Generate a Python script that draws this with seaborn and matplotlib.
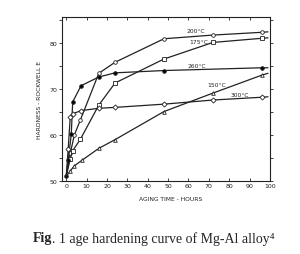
import matplotlib
matplotlib.use("Agg")
import matplotlib.pyplot as plt
import pandas as pd
import seaborn as sns

# aging time (hours) and Rockwell E hardness
hours_200 = [0, 2, 4, 7, 16, 24, 48, 72, 96, 99]
hard_200 = [51, 56, 60, 63.3, 73.4, 75.8, 80.9, 81.7, 82.3, 82.4]

hours_175 = [0, 2, 3.2, 7, 16, 24, 48, 72, 96, 99]
hard_175 = [51, 54.8, 56.6, 59.1, 66.5, 71.3, 76.5, 80.1, 81.0, 81.1]

hours_260 = [0, 1, 2.5, 3.2, 7.3, 16, 24, 48, 96, 99]
hard_260 = [51, 54.5, 60.2, 67.2, 70.7, 72.6, 73.5, 74.0, 74.6, 74.6]

hours_150 = [0, 2, 4, 8, 16, 24, 48, 72, 96, 99]
hard_150 = [51, 52.2, 53.3, 54.6, 57.1, 59.0, 65.1, 69.1, 73.0, 73.4]

hours_300 = [0, 1, 2, 3.2, 7.3, 16, 24, 48, 72, 96, 99]
hard_300 = [51, 57, 64.0, 64.6, 65.3, 65.8, 66.0, 66.7, 67.6, 68.2, 68.3]

series = [
    ("200°C", hours_200, hard_200, "o", "white"),
    ("175°C", hours_175, hard_175, "s", "white"),
    ("260°C", hours_260, hard_260, "o", "black"),
    ("150°C", hours_150, hard_150, "^", "white"),
    ("300°C", hours_300, hard_300, "D", "white"),
]

curve_labels = ["200°C", "175°C", "260°C", "150°C", "300°C"]
label_x = [63.5, 65, 64, 74, 85]
label_y = [82.6, 80.3, 75.2, 70.9, 68.9]

x_ticks = [0, 10, 20, 30, 40, 50, 60, 70, 80, 90, 100]
y_ticks = [50, 60, 70, 80]

sns.set_theme(style="ticks")
plt.rcParams["font.family"] = ["DejaVu Sans"]

fig = plt.figure(figsize=(3.0, 2.55), dpi=100)
ax = fig.add_axes([0.207, 0.286, 0.693, 0.643])

for name, xs, ys, mk, face in series:
    df = pd.DataFrame({"hours": xs, "hardness": ys})
    # the last point only carries the curve to the frame, no symbol there
    first = 0 if face == "black" else 1
    sns.lineplot(data=df, x="hours", y="hardness", ax=ax, color="#222222",
                 linewidth=0.9, marker=mk, markersize=2.6,
                 markevery=list(range(first, len(xs) - 1)),
                 markerfacecolor=face, markeredgecolor="#222222",
                 markeredgewidth=0.6, estimator=None)

for lab, lx, ly in zip(curve_labels, label_x, label_y):
    ax.text(lx, ly, lab, fontsize=4.3, ha="center", va="center", color="#222222")

ax.set_xlim(-2, 99.5)
ax.set_ylim(50, 85.6)
ax.set_xticks(x_ticks)
ax.set_yticks(y_ticks)
ax.set_xticklabels([str(t) for t in x_ticks], fontsize=4.5)
ax.set_yticklabels([str(t) for t in y_ticks], fontsize=4.5)
ax.set_yticks([55, 65, 75, 85], minor=True)
ax.tick_params(axis="both", which="both", length=2, width=0.6, color="#222222",
               labelcolor="#222222", pad=1.5, top=True, right=True, direction="in")
ax.tick_params(axis="y", which="both", direction="out", left=True)
for side in ax.spines.values():
    side.set_linewidth(0.8)
    side.set_color("#222222")

ax.set_xlabel("AGING TIME - HOURS", fontsize=4.3, labelpad=4, color="#222222")
ax.set_ylabel("HARDNESS - ROCKWELL E", fontsize=4.3, labelpad=5, color="#222222")
ax.xaxis.set_label_coords(0.52, -0.09)

serif = ["Liberation Serif", "DejaVu Serif"]
fig_word = fig.text(0.11, 0.063, "Fig", ha="left", va="center", fontsize=10,
                    family=serif, weight="bold")
ax.annotate(". 1 age hardening curve of Mg-Al alloy\u2074", xy=(1, 0.5),
            xycoords=fig_word, ha="left", va="center", fontsize=10,
            family=serif, annotation_clip=False)

fig.savefig("out.png", dpi=100, facecolor="white")
